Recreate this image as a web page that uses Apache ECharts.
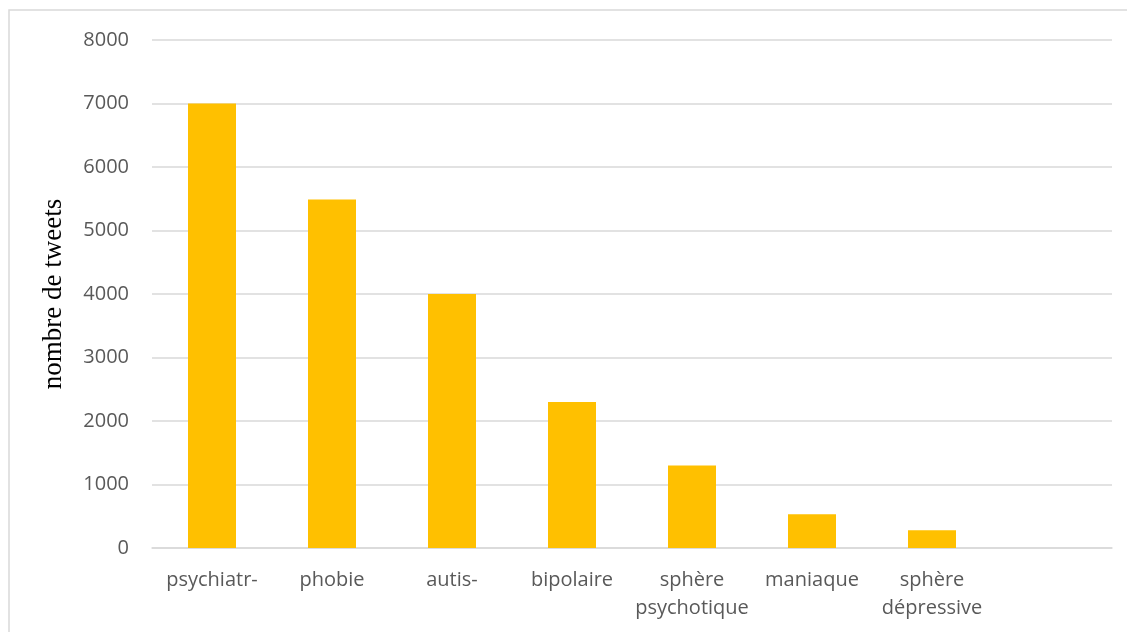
<!DOCTYPE html>
<html>
<head>
<meta charset="utf-8">
<script src="https://cdn.jsdelivr.net/npm/echarts@6/dist/echarts.min.js"></script>
<style>
  html, body { margin: 0; padding: 0; background: #fff; }
  #chart { width: 1127px; height: 632px; }
</style>
</head>
<body>
<div id="chart"></div>
<script>
// Tweet counts per psychiatric term
const categories = ['psychiatr-', 'phobie', 'autis-', 'bipolaire', 'sphère\npsychotique', 'maniaque', 'sphère\ndépressive', ''];
const tweetCounts = [7000, 5490, 4000, 2300, 1300, 530, 280, null];
const yTicks = { min: 0, max: 8000, interval: 1000 };

const chart = echarts.init(document.getElementById('chart'), null, { renderer: 'canvas' });
chart.setOption({
  animation: false,
  backgroundColor: '#ffffff',
  graphic: [{
    type: 'rect',
    shape: { x: 9, y: 10, width: 1200, height: 700 },
    style: { fill: 'none', stroke: '#d9d9d9', lineWidth: 1.5 },
    silent: true
  }],
  grid: { left: 152, right: 15, top: 40, bottom: 84, containLabel: false },
  xAxis: {
    type: 'category',
    data: categories,
    axisLine: { show: true, lineStyle: { color: '#d9d9d9', width: 1.5 } },
    axisTick: { show: false },
    axisLabel: {
      color: '#595959',
      fontFamily: 'Open Sans',
      fontSize: 20,
      lineHeight: 28,
      margin: 18,
      interval: 0
    }
  },
  yAxis: {
    type: 'value',
    min: yTicks.min,
    max: yTicks.max,
    interval: yTicks.interval,
    name: 'nombre de tweets',
    nameLocation: 'middle',
    nameGap: 85,
    nameRotate: 90,
    nameTextStyle: { color: '#000', fontFamily: 'Liberation Serif', fontSize: 27 },
    axisLine: { show: false },
    axisTick: { show: false },
    splitLine: { lineStyle: { color: '#d9d9d9', width: 1.5 } },
    axisLabel: {
      color: '#595959',
      fontFamily: 'Open Sans',
      fontSize: 20,
      margin: 23,
      formatter: function (v) { return String(v); }
    }
  },
  series: [{
    type: 'bar',
    data: tweetCounts,
    barWidth: 48,
    itemStyle: { color: '#ffc000' }
  }]
});
</script>
</body>
</html>
